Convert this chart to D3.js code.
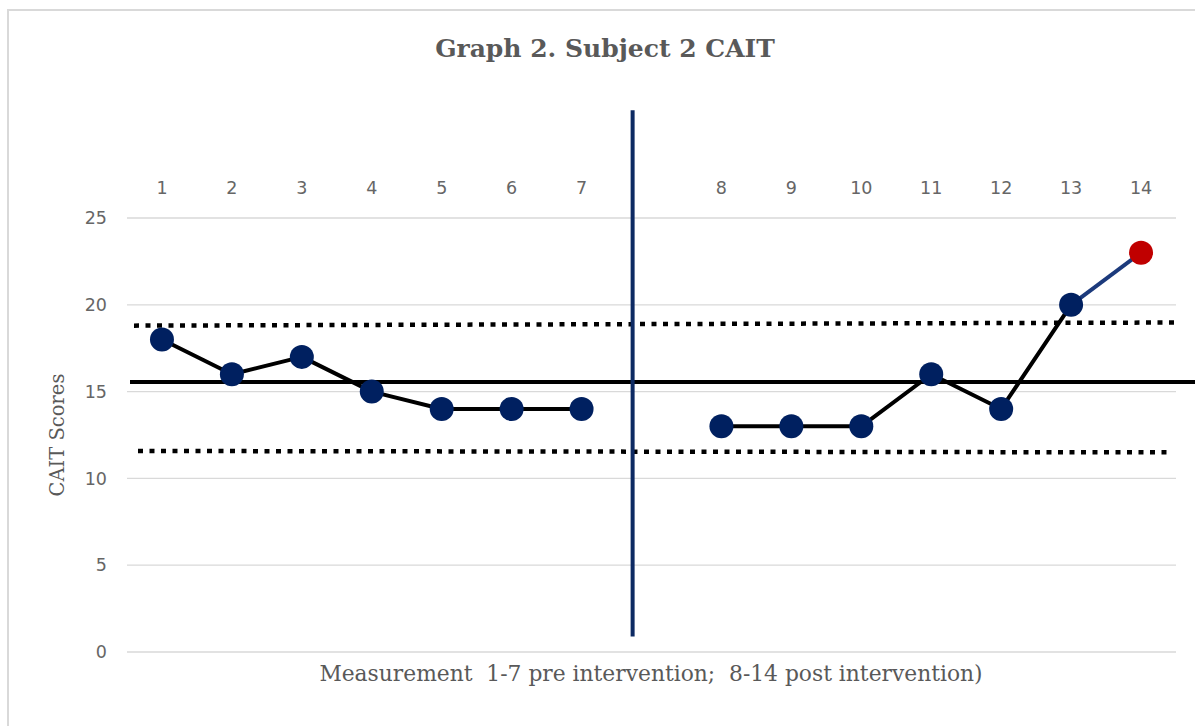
<!DOCTYPE html>
<html>
<head>
<meta charset="utf-8">
<script src="https://cdn.jsdelivr.net/npm/d3@7"></script>
<style>
  html, body { margin: 0; padding: 0; background: #fff; }
  svg { display: block; }
  text { white-space: pre; }
</style>
</head>
<body>
<svg id="chart" width="1195" height="726"></svg>
<script>
// category slots (empty slot between pre and post phase)
const slots = ["1", "2", "3", "4", "5", "6", "7", "gap", "8", "9", "10", "11", "12", "13", "14"];
const preLabels = ["1", "2", "3", "4", "5", "6", "7"];
const preScores = [18, 16, 17, 15, 14, 14, 14];
const postLabels = ["8", "9", "10", "11", "12", "13", "14"];
const postScores = [13, 13, 13, 16, 14, 20, 23];
const yTicks = [0, 5, 10, 15, 20, 25];

// reference lines: mean and the two dotted bands (start / end values)
const meanScore = 15.55;
const upperBand = [18.8, 18.98];
const lowerBand = [11.58, 11.5];
// divider between phases (band offset inside the gap slot, y extent in score units)
const dividerOffset = 0.23;
const dividerRange = [0.9, 31.2];

const svg = d3.select("#chart");

// frame of the chart area
svg.append("rect").attr("x", 8).attr("y", 10).attr("width", 1200).attr("height", 730)
  .attr("fill", "none").attr("stroke", "#d9d9d9").attr("stroke-width", 2);

const plotLeft = 127, plotRight = 1176, plotTop = 218, plotBottom = 652;

const x = d3.scaleBand().domain(slots).range([plotLeft, plotRight]).padding(0);
const y = d3.scaleLinear().domain([0, 25]).range([plotBottom, plotTop]);
const cx = d => x(d) + x.bandwidth() / 2;

// title
svg.append("text").attr("x", 605).attr("y", 57).attr("text-anchor", "middle")
  .attr("font-family", "'DejaVu Serif', serif").attr("font-weight", "bold")
  .attr("font-size", 25).attr("fill", "#595959").text("Graph 2. Subject 2 CAIT");

// gridlines
svg.append("g").selectAll("line").data(yTicks).enter().append("line")
  .attr("x1", plotLeft).attr("x2", plotRight)
  .attr("y1", d => y(d)).attr("y2", d => y(d))
  .attr("stroke", "#d9d9d9").attr("stroke-width", 1.3);

// y axis tick labels
const yAxis = svg.append("g").attr("transform", `translate(${plotLeft},0)`)
  .call(d3.axisLeft(y).tickValues(yTicks).tickSize(0).tickPadding(20));
yAxis.select(".domain").remove();
yAxis.selectAll("text").attr("font-family", "'DejaVu Sans', sans-serif")
  .attr("font-size", 17.5).attr("fill", "#666");

// x category labels on top
const xAxis = svg.append("g").attr("transform", `translate(0,${plotTop})`)
  .call(d3.axisTop(x).tickValues(slots.filter(s => s !== "gap")).tickSize(0).tickPadding(24));
xAxis.select(".domain").remove();
xAxis.selectAll("text").attr("font-family", "'DejaVu Sans', sans-serif")
  .attr("font-size", 17.5).attr("fill", "#666");

// axis titles
svg.append("text").attr("transform", `translate(64,${435}) rotate(-90)`)
  .attr("text-anchor", "middle").attr("font-family", "'DejaVu Serif', serif")
  .attr("font-size", 19.5).attr("fill", "#595959").text("CAIT Scores");

svg.append("text").attr("x", 651).attr("y", 681).attr("text-anchor", "middle")
  .attr("font-family", "'DejaVu Serif', serif").attr("font-size", 21.8).attr("fill", "#595959")
  .text("Measurement  1-7 pre intervention;  8-14 post intervention)");

// dotted bands
const bandLine = (vals, x1, x2) => svg.append("line")
  .attr("x1", x1).attr("x2", x2).attr("y1", y(vals[0])).attr("y2", y(vals[1]))
  .attr("stroke", "#000").attr("stroke-width", 4.5).attr("stroke-dasharray", "5,6.5");
bandLine(upperBand, 134, 1176);
bandLine(lowerBand, 138, 1168);

// mean line
svg.append("line").attr("x1", 130).attr("x2", 1195)
  .attr("y1", y(meanScore)).attr("y2", y(meanScore))
  .attr("stroke", "#000").attr("stroke-width", 4);

// phase divider
const dx = x("gap") + x.bandwidth() * dividerOffset;
svg.append("line").attr("x1", dx).attr("x2", dx)
  .attr("y1", y(dividerRange[0])).attr("y2", y(dividerRange[1]))
  .attr("stroke", "#0d2a63").attr("stroke-width", 4);

const pre = preLabels.map((l, i) => ({ label: l, value: preScores[i] }));
const post = postLabels.map((l, i) => ({ label: l, value: postScores[i] }));

const line = d3.line().x(d => cx(d.label)).y(d => y(d.value));

svg.append("path").datum(pre).attr("d", line)
  .attr("fill", "none").attr("stroke", "#000").attr("stroke-width", 4).attr("stroke-linejoin", "round");
svg.append("path").datum(post.slice(0, 6)).attr("d", line)
  .attr("fill", "none").attr("stroke", "#000").attr("stroke-width", 4).attr("stroke-linejoin", "round");
svg.append("path").datum(post.slice(5)).attr("d", line)
  .attr("fill", "none").attr("stroke", "#1c3a7c").attr("stroke-width", 4);

// markers
svg.append("g").selectAll("circle").data(pre.concat(post)).enter().append("circle")
  .attr("cx", d => cx(d.label)).attr("cy", d => y(d.value)).attr("r", 12)
  .attr("fill", (d, i, arr) => i === arr.length - 1 ? "#c00000" : "#002060");
</script>
</body>
</html>
